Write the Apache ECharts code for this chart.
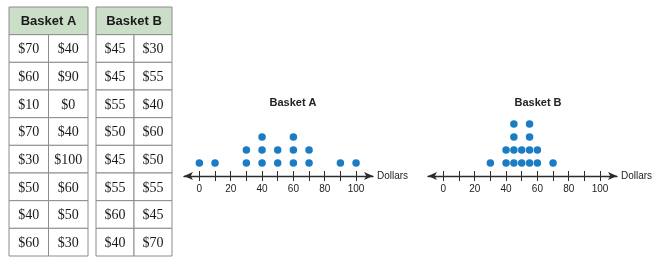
<!DOCTYPE html>
<html>
<head>
<meta charset="utf-8">
<script src="https://cdn.jsdelivr.net/npm/echarts@6/dist/echarts.min.js"></script>
<style>html,body{margin:0;padding:0;background:#fff}#c{width:659px;height:268px}</style>
</head>
<body>
<div id="c"></div>
<script>
// ---- data ----
const basketA = [70, 40, 60, 90, 10, 0, 70, 40, 30, 100, 50, 60, 40, 50, 60, 30];
const basketB = [45, 30, 45, 55, 55, 40, 50, 60, 45, 50, 55, 55, 60, 45, 40, 70];
const tableTitles = ['Basket A', 'Basket B'];
const tickValues = [0, 10, 20, 30, 40, 50, 60, 70, 80, 90, 100];
const labelValues = [0, 20, 40, 60, 80, 100];
const axisName = 'Dollars';

// ---- build helpers ----
const rowCats = ['h', 'r1', 'r2', 'r3', 'r4', 'r5', 'r6', 'r7', 'r8'];
const colCats = ['c1', 'c2'];
function tableCells(title, vals) {
  const cells = [{pos: [0, 0], text: title, header: true}];
  vals.forEach((v, i) => cells.push({pos: [i % 2, 1 + Math.floor(i / 2)], text: '$' + v, header: false}));
  return cells;
}
function dots(vals) {
  const cnt = {};
  const out = [];
  vals.slice().sort((a, b) => a - b).forEach(v => {
    cnt[v] = (cnt[v] || 0) + 1;
    out.push([v, cnt[v]]);
  });
  return out;
}
const cellsA = tableCells(tableTitles[0], basketA);
const cellsB = tableCells(tableTitles[1], basketB);

function tableSeries(cells, idx) {
  return {
    type: 'custom', xAxisIndex: idx, yAxisIndex: idx, silent: true,
    data: cells.map(c => c.pos),
    renderItem: function (params, api) {
      const cell = cells[params.dataIndex];
      const c = api.coord([api.value(0), api.value(1)]);
      const s = api.size([1, 1]);
      const w = s[0] * (cell.header ? 2 : 1);
      const x = c[0] - s[0] / 2, y = c[1] - s[1] / 2;
      return {
        type: 'group',
        children: [
          {type: 'rect', shape: {x: x, y: y, width: w, height: s[1]},
           style: {fill: cell.header ? '#cbdfc8' : '#ffffff', stroke: '#8c8c8c', lineWidth: 1}},
          {type: 'text', style: {text: cell.text, x: x + w / 2, y: y + s[1] / 2 + 1, align: 'center', verticalAlign: 'middle',
            fill: cell.header ? '#1a1a1a' : '#1a1a1a',
            font: cell.header ? 'bold 13px "Liberation Sans", Arial, sans-serif' : '14px "Liberation Serif", "Times New Roman", serif'}}
        ]
      };
    }
  };
}

const grids = [
  {left: 9, top: 7, width: 79, height: 249},
  {left: 96, top: 7, width: 76, height: 249},
  {left: 184, top: 124, width: 189, height: 52},
  {left: 428, top: 124, width: 189, height: 52}
];

const xAxes = [
  {gridIndex: 0, type: 'category', data: colCats, show: false},
  {gridIndex: 1, type: 'category', data: colCats, show: false}
];
const yAxes = [
  {gridIndex: 0, type: 'category', data: rowCats, inverse: true, show: false},
  {gridIndex: 1, type: 'category', data: rowCats, inverse: true, show: false}
];
[2, 3].forEach(g => {
  xAxes.push({
    gridIndex: g, type: 'value', min: -9.8, max: 110.8,
    name: axisName, nameLocation: 'end', nameGap: 4,
    nameTextStyle: {fontSize: 10, color: '#222', fontFamily: '"Liberation Sans", Arial, sans-serif'},
    axisLine: {show: true, onZero: false, symbol: ['arrow', 'arrow'], symbolSize: [6, 9], lineStyle: {color: '#2b2b2b', width: 1.4}},
    axisTick: {show: true, inside: false, length: 5, customValues: tickValues, lineStyle: {color: '#2b2b2b', width: 1}},
    axisLabel: {show: true, customValues: labelValues, margin: 8, fontSize: 10, color: '#222', fontFamily: '"Liberation Sans", Arial, sans-serif'},
    splitLine: {show: false}
  });
  xAxes.push({
    gridIndex: g, type: 'value', min: -9.8, max: 110.8, position: 'bottom',
    axisLine: {show: false},
    axisTick: {show: true, inside: true, length: 5, customValues: tickValues, lineStyle: {color: '#2b2b2b', width: 1}},
    axisLabel: {show: false}, splitLine: {show: false}
  });
  yAxes.push({gridIndex: g, type: 'value', min: 0, max: 4, show: false});
});

const dotStyle = {color: '#1a7dc3', opacity: 1};
const option = {
  animation: false,
  backgroundColor: '#ffffff',
  title: [
    {text: tableTitles[0], left: 293, top: 97, textAlign: 'center', padding: 0,
     textStyle: {fontSize: 11, fontWeight: 'bold', color: '#222', fontFamily: '"Liberation Sans", Arial, sans-serif'}},
    {text: tableTitles[1], left: 538, top: 97, textAlign: 'center', padding: 0,
     textStyle: {fontSize: 11, fontWeight: 'bold', color: '#222', fontFamily: '"Liberation Sans", Arial, sans-serif'}}
  ],
  grid: grids,
  xAxis: xAxes,
  yAxis: yAxes,
  series: [
    tableSeries(cellsA, 0),
    tableSeries(cellsB, 1),
    {type: 'scatter', xAxisIndex: 2, yAxisIndex: 2, symbolSize: 7.5, itemStyle: dotStyle, data: dots(basketA), silent: true},
    {type: 'scatter', xAxisIndex: 4, yAxisIndex: 3, symbolSize: 7.5, itemStyle: dotStyle, data: dots(basketB), silent: true}
  ]
};
const chart = echarts.init(document.getElementById('c'), null, {renderer: 'canvas'});
chart.setOption(option);
</script>
</body>
</html>
